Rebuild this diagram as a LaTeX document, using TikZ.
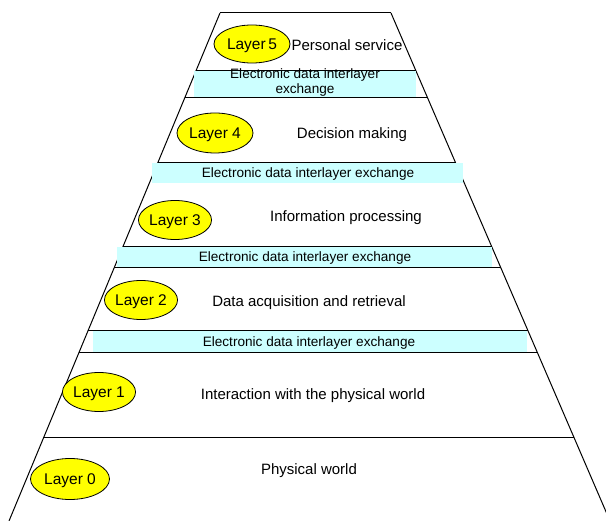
\documentclass[tikz,border=0pt]{standalone}
\usepackage{fontspec}
\setmainfont{Liberation Sans}
\usetikzlibrary{calc,shapes.geometric}
\definecolor{bandcyan}{RGB}{204,255,255}
\definecolor{layeryellow}{RGB}{255,255,0}
\tikzset{
  edge/.style={draw=black,line width=1pt},
  band/.style={fill=bandcyan,draw=none},
  layerell/.style={ellipse,draw=black,line width=0.8pt,fill=layeryellow,inner sep=0pt,text depth=0pt,font=\fontsize{15.5}{17}\selectfont},
  maintext/.style={font=\fontsize{15}{17}\selectfont,inner sep=0pt},
  bandtext/.style={font=\fontsize{13.6}{15.5}\selectfont,inner sep=0pt,align=center}
}
\begin{document}
\begin{tikzpicture}[x=1pt,y=-1pt]
\useasboundingbox (0,0) rectangle (606,521);
\clip (0,0) rectangle (606,521);
\fill[white] (0,0) rectangle (606,521);
\coordinate (TL) at (220,13);
\coordinate (BL) at (9,521);
\coordinate (TR) at (391,13);
\coordinate (BR) at (610,521);
% sides
\draw[edge] (TL) -- (BL);
\draw[edge] (TR) -- (BR);
% cyan bands
\fill[band] (194,71) rectangle (416,97);
\fill[band] (152,163) rectangle (463,183);
\fill[band] (117,247) rectangle (492,268);
\fill[band] (93,331) rectangle (527,353);
% horizontal lines
\draw[edge] (TL) -- (TR);
\foreach \yy in {71,98,163,247,268,331,353,438}{
  \draw[edge] ($(TL)!{(\yy-13)/508}!(BL)$) -- ($(TR)!{(\yy-13)/508}!(BR)$);
}
% band texts
\node[bandtext] (b1) at (305,82.5) {Electronic data interlayer\\exchange};
\node[bandtext] (b2) at (308,174) {Electronic data interlayer exchange};
\node[bandtext] (b3) at (305,258) {Electronic data interlayer exchange};
\node[bandtext] (b4) at (309,343) {Electronic data interlayer exchange};
% layer ellipses
\node[layerell,minimum width=76pt,minimum height=38pt] (l5) at (252,44) {Layer\,5};
\node[layerell,minimum width=76pt,minimum height=40pt] (l4) at (215,133) {Layer 4};
\node[layerell,minimum width=72pt,minimum height=39pt] (l3) at (175,220) {Layer 3};
\node[layerell,minimum width=72pt,minimum height=39pt] (l2) at (141,300) {Layer 2};
\node[layerell,minimum width=70pt,minimum height=39pt] (l1) at (99,392) {Layer 1};
\node[layerell,minimum width=79pt,minimum height=41pt] (l0) at (70,479) {Layer 0};
% layer descriptions
\node[maintext] (t5) at (347,45) {Personal service};
\node[maintext] (t4) at (352,134.5) {Decision making};
\node[maintext] (t3) at (346,217.5) {Information processing};
\node[maintext] (t2) at (309,302.5) {Data acquisition and retrieval};
\node[maintext] (t1) at (313,395.5) {Interaction with the physical world};
\node[maintext] (t0) at (309,470.5) {Physical world};
\end{tikzpicture}
\end{document}
